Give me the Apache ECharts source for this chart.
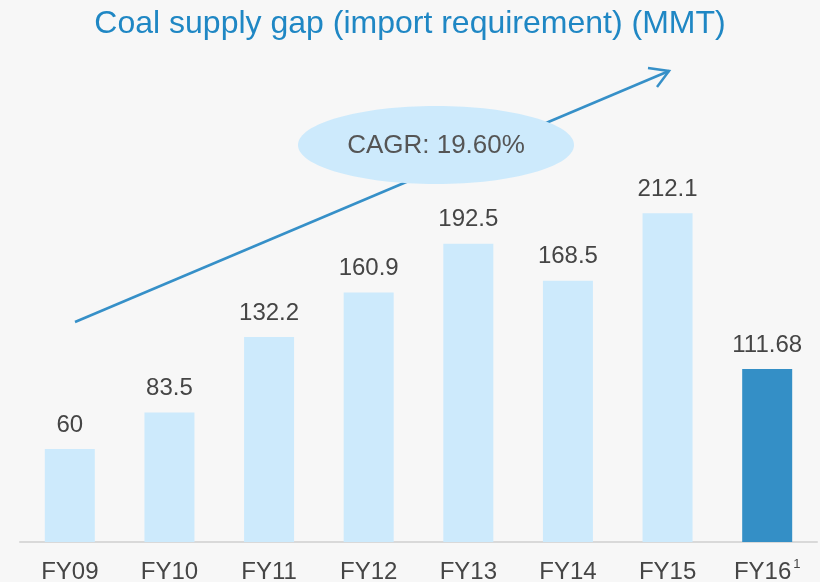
<!DOCTYPE html>
<html>
<head>
<meta charset="utf-8">
<script src="https://cdn.jsdelivr.net/npm/echarts@6/dist/echarts.min.js"></script>
<style>
  html, body { margin: 0; padding: 0; background: #f7f7f7; }
  #chart1 { width: 820px; height: 582px; }
</style>
</head>
<body>
<div id="chart1"></div>
<script>
var years = ['FY09', 'FY10', 'FY11', 'FY12', 'FY13', 'FY14', 'FY15', 'FY16'];
var gap = [60, 83.5, 132.2, 160.9, 192.5, 168.5, 212.1, 111.68];
var labels = ['60', '83.5', '132.2', '160.9', '192.5', '168.5', '212.1', '111.68'];
var cagrText = 'CAGR: 19.60%';

var chartDom = document.getElementById('chart1');
var myChart = echarts.init(chartDom);
var option;

option = {
  backgroundColor: '#f7f7f7',
  animation: false,
  title: {
    text: 'Coal supply gap (import requirement) (MMT)',
    left: 'center',
    top: 3,
    textStyle: {
      color: '#1f87c4',
      fontSize: 32,
      fontWeight: 'normal',
      fontFamily: 'Liberation Sans'
    }
  },
  grid: { left: 20, right: 3, top: 77, bottom: 40, containLabel: false, outerBoundsMode: 'none' },
  xAxis: {
    type: 'category',
    data: years,
    axisLine: { lineStyle: { color: '#d9d9d9', width: 2 } },
    axisTick: { show: false },
    axisLabel: {
      interval: 0,
      margin: 16,
      color: '#454545',
      fontSize: 24,
      lineHeight: 28,
      fontFamily: 'Liberation Sans',
      formatter: function (v) {
        return v === 'FY16' ? v + '{sup|1}' : v;
      },
      rich: {
        sup: { fontSize: 13, lineHeight: 13, color: '#454545', verticalAlign: 'top', padding: [0, 0, 4, 2], fontFamily: 'Liberation Sans' }
      }
    }
  },
  yAxis: {
    type: 'value',
    min: 0,
    max: 300,
    show: false,
    splitLine: { show: false }
  },
  series: [
    {
      type: 'bar',
      barWidth: 50,
      data: gap.map(function (v, i) {
        return {
          value: v,
          itemStyle: { color: i === gap.length - 1 ? '#348fc6' : '#cdeafc' }
        };
      }),
      label: {
        show: true,
        position: 'top',
        distance: 12,
        color: '#454545',
        fontSize: 24,
        fontFamily: 'Liberation Sans',
        formatter: function (p) { return labels[p.dataIndex]; }
      }
    }
  ],
  graphic: [
    {
      type: 'line',
      shape: { x1: 75, y1: 322, x2: 669, y2: 71 },
      style: { stroke: '#3690c8', lineWidth: 2.5 }
    },
    {
      type: 'polyline',
      shape: { points: [[648, 68], [669, 71], [657, 87]] },
      style: { stroke: '#3690c8', lineWidth: 2.5, fill: null }
    },
    {
      type: 'ellipse',
      shape: { cx: 436, cy: 145, rx: 138, ry: 39 },
      style: { fill: '#cdeafc' }
    },
    {
      type: 'text',
      x: 436,
      y: 146,
      style: {
        text: cagrText,
        fill: '#555555',
        fontSize: 26,
        fontFamily: 'Liberation Sans',
        align: 'center',
        verticalAlign: 'middle'
      }
    }
  ]
};

option && myChart.setOption(option);
window.onresize = function() {
  myChart.resize();
};
</script>
</body>
</html>
